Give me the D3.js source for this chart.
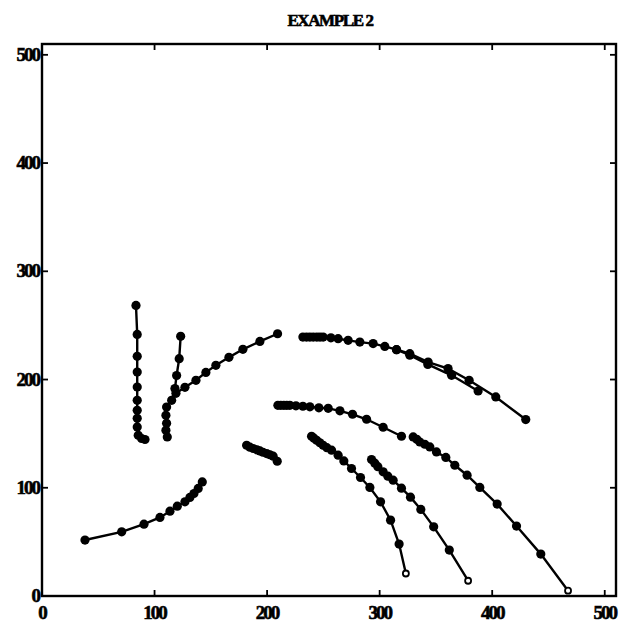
<!DOCTYPE html>
<html>
<head>
<meta charset="utf-8">
<script src="https://cdn.jsdelivr.net/npm/d3@7"></script>
<style>
  body { margin: 0; background: #fff; }
  text { font-family: "Liberation Serif", "DejaVu Serif", serif; font-weight: bold; fill: #000; stroke: #000; stroke-width: 0.6px; }
</style>
</head>
<body>
<div id="vis"></div>
<script>
// tracks, [x, y] in data units
var trackA = [[83.5,268.5],[84.6,241.7],[84.6,221.4],[84.6,206.9],[84.6,193.1],[84.6,180.8],[84.6,171.6],[84.6,164.2],[84.6,156.2],[85.5,148.5],[88.5,145.5],[91.5,144.6]];
var trackB = [[123.2,239.9],[121.9,219.3],[119.6,203.7],[118.1,191.6],[115.2,180.8],[110.7,174.6],[110.1,166.9],[110.7,159.6],[110.1,153.1],[111.3,147]];
var trackC = [[119,187.3],[127,192.8],[136.8,199.3],[145.6,206.6],[154.5,213.1],[166.1,220.5],[178.5,227.9],[193.6,235.2],[209.3,242.3]];
var trackD = [[231.8,239.2],[235,239.2],[238,239.2],[241,239.2],[244.2,239.2],[247,239.2],[249.8,239.2],[256.7,238.5],[263.1,237.7],[272,236.2],[282.4,234.6],[294.2,233.2],[304.6,230.6],[315,227.6],[326.8,223.9],[343.1,216.1],[360.8,210.1],[379.5,199.3],[403.2,183.9],[429.8,163]];
var trackD2 = [[315,227.6],[326.8,222.5],[342.8,214],[363.9,203.9],[387.5,189.4]];
var trackE = [[209.6,176.2],[212.2,176.2],[214.9,176.2],[217.5,176.2],[220.2,176.2],[225.6,175.7],[231.8,175.3],[238,174.8],[246,173.9],[254.3,173.4],[264.7,171.1],[275.9,167.9],[288.4,163.3],[303.1,155.9],[319.4,147.6]];
var trackF = [[329.8,147],[333,144.8],[335.7,142.3],[340.1,140.2],[344.6,137.7],[350.5,133.1],[358.8,128],[366.8,120.8],[377.7,111.6],[389,100.3],[404.4,84.9],[421.6,64.6],[443.2,38.7],[467.4,4.9]];
var trackG = [[292.8,126.1],[295.7,122.7],[298.4,119.5],[303.1,114.7],[307.3,110.7],[312,107],[319.4,99.6],[327.4,91.3],[336.6,80],[348,63.9],[361.9,42.4],[378.6,14.1]];
var trackH = [[239.5,147.6],[241.6,145.8],[244,143.9],[246.9,141.6],[249.8,139.3],[253.1,137],[257.3,134.7],[263.1,130.1],[268.2,124.8],[275,117.8],[283,109.5],[291.3,100.3],[300.8,87],[309.7,70.1],[317.3,48],[323.3,20.8]];
var trackI = [[181.8,139.3],[184.7,137.5],[187.7,136.3],[190.9,135.1],[193.6,134],[196.3,132.8],[199.6,131.6],[202.5,130.5],[205.4,129.2],[209,124.5]];
var trackJ = [[38.2,51.7],[70.8,59.3],[90.6,66.4],[104.8,72.6],[113.7,78.4],[120.2,83],[127,87],[131.4,91.1],[135,94.7],[138.8,99.4],[142.4,105.4]];

// tracks that end in an open circle
var openEnded = [trackF, trackG, trackH];
var tracks = [trackA, trackB, trackC, trackD, trackD2, trackE, trackF, trackG, trackH, trackI, trackJ];

var tickValues = [0, 100, 200, 300, 400, 500];
var title = "EXAMPLE 2";

var width = 621, height = 629;
var margin = {top: 44, right: 5, bottom: 33, left: 42};

var svg = d3.select("#vis").append("svg")
  .attr("width", width)
  .attr("height", height);

var x = d3.scaleLinear().domain([0, 510]).range([margin.left, width - margin.right]);
var y = d3.scaleLinear().domain([0, 510]).range([height - margin.bottom, margin.top]);

// title
svg.append("text")
  .attr("x", 330)
  .attr("y", 26)
  .attr("text-anchor", "middle")
  .style("font-size", "17px")
  .style("letter-spacing", "-1.4px")
  .text(title);

// ticks pointing inward on all sides
var tickLen = 6;
var g = svg.append("g").attr("stroke", "#000").attr("stroke-width", 1.8);
tickValues.slice(1).forEach(function(v) {
  g.append("line").attr("x1", x(v)).attr("x2", x(v)).attr("y1", y(0)).attr("y2", y(0) - tickLen);
  g.append("line").attr("x1", x(v)).attr("x2", x(v)).attr("y1", y(510)).attr("y2", y(510) + tickLen);
  g.append("line").attr("x1", x(0)).attr("x2", x(0) + tickLen).attr("y1", y(v)).attr("y2", y(v));
  g.append("line").attr("x1", x(510)).attr("x2", x(510) - tickLen).attr("y1", y(v)).attr("y2", y(v));
});

// frame
svg.append("rect")
  .attr("x", x(0)).attr("y", y(510))
  .attr("width", x(510) - x(0)).attr("height", y(0) - y(510))
  .attr("fill", "none").attr("stroke", "#000").attr("stroke-width", 2.4);

// tick labels
svg.selectAll(".xlab").data(tickValues).enter().append("text")
  .attr("class", "xlab")
  .attr("x", function(d) { return x(d); })
  .attr("y", y(0) + 23)
  .attr("text-anchor", "middle")
  .style("font-size", "19px")
  .style("letter-spacing", "-2px")
  .text(function(d) { return d; });

svg.selectAll(".ylab").data(tickValues).enter().append("text")
  .attr("class", "ylab")
  .attr("x", x(0) - 3)
  .attr("y", function(d) { return y(d) + 6; })
  .attr("text-anchor", "end")
  .style("font-size", "19px")
  .style("letter-spacing", "-2px")
  .text(function(d) { return d; });

var line = d3.line()
  .x(function(d) { return x(d[0]); })
  .y(function(d) { return y(d[1]); });

var plot = svg.append("g");

plot.selectAll(".track").data(tracks).enter().append("path")
  .attr("class", "track")
  .attr("d", line)
  .attr("fill", "none")
  .attr("stroke", "#000")
  .attr("stroke-width", 2.4);

tracks.forEach(function(t) {
  var isOpen = openEnded.indexOf(t) >= 0;
  plot.selectAll(null).data(t).enter().append("circle")
    .attr("cx", function(d) { return x(d[0]); })
    .attr("cy", function(d) { return y(d[1]); })
    .attr("r", function(d, i) { return (isOpen && i === t.length - 1) ? 3 : 4.6; })
    .attr("fill", function(d, i) { return (isOpen && i === t.length - 1) ? "#fff" : "#000"; })
    .attr("stroke", "#000")
    .attr("stroke-width", function(d, i) { return (isOpen && i === t.length - 1) ? 1.8 : 0; });
});
</script>
</body>
</html>
